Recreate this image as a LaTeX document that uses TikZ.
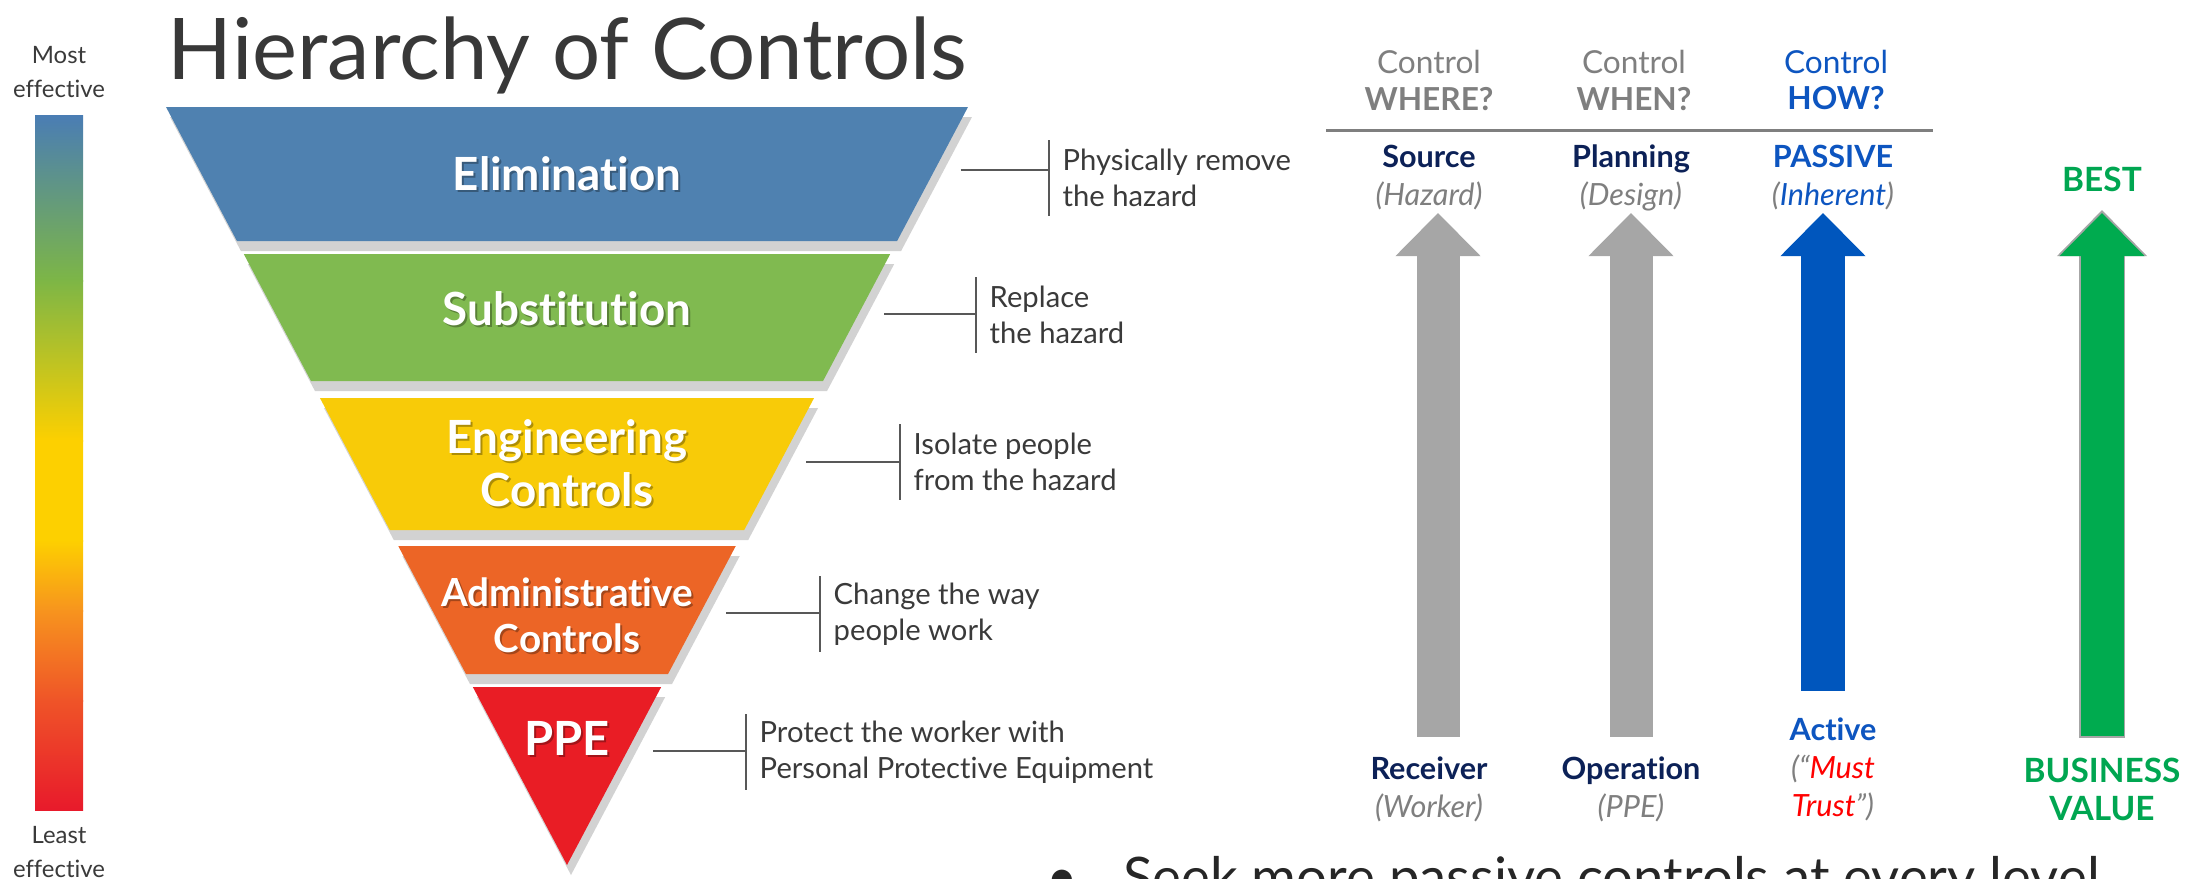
\documentclass[tikz,border=0pt]{standalone}
\usepackage{fontspec}
\setmainfont{Lato}[Ligatures=NoCommon]
\usetikzlibrary{arrows.meta,shadows}

\definecolor{barblue}{HTML}{4A7DB4}
\definecolor{bargreen}{HTML}{7DB646}
\definecolor{baryellow}{HTML}{FDD000}
\definecolor{barorange}{HTML}{F7941E}
\definecolor{barredor}{HTML}{EF5428}
\definecolor{barred}{HTML}{E81A2B}
\definecolor{elimblue}{HTML}{4F81B0}
\definecolor{subsgreen}{HTML}{80BA50}
\definecolor{engyellow}{HTML}{F8CB08}
\definecolor{adminorange}{HTML}{EC6526}
\definecolor{ppered}{HTML}{E91D25}
\definecolor{titlegray}{HTML}{383838}
\definecolor{descgray}{HTML}{3A3A3A}
\definecolor{ctrlgray}{HTML}{7F7F7F}
\definecolor{arrgray}{HTML}{A6A6A6}
\definecolor{hocnavy}{HTML}{0C2157}
\definecolor{pasblue}{HTML}{0D55C0}
\definecolor{arrblue}{HTML}{0056BD}
\definecolor{bestgreen}{HTML}{00A651}
\definecolor{arrgreen}{HTML}{00AB4F}
\definecolor{mustred}{HTML}{FF0000}

\tikzset{
  band/.style={fill=#1, drop shadow={shadow xshift=.04cm, shadow yshift=-.1cm, fill=black!35, opacity=.5}},
  lvl/.style={text=white, align=center, inner sep=0pt},
  heading/.style={anchor=base west, inner sep=0pt, text=titlegray, font=\fontsize{24.2}{28}\selectfont},
  eff/.style={align=center, text=descgray, inner sep=0pt, font=\fontsize{6.8}{9.4}\selectfont},
  desc/.style={anchor=west, align=left, text=descgray, font=\fontsize{8.3}{10.2}\selectfont,
    inner xsep=.13cm, inner ysep=0pt, minimum height=.74cm},
  callout/.style={draw=descgray!85, line width=.6pt},
  hd/.style={align=center, text=ctrlgray, inner sep=0pt, font=\fontsize{9}{10.5}\selectfont},
  lv/.style={align=center, text=ctrlgray, inner sep=0pt, font=\fontsize{8.7}{10.8}\selectfont},
  bigarrow/.style={line width=.43cm, -{Triangle[width=.85cm, length=.43cm, line width=0pt]}}
}

\begin{document}
\begin{tikzpicture}[x=0.01cm, y=-0.01cm]
  \clip (0,0) rectangle (2190,878);

  % effectiveness bar
  \foreach \ya/\yb/\ca/\cb in {115/280/barblue/bargreen, 280/440/bargreen/baryellow,
      440/540/baryellow/baryellow, 540/610/baryellow/barorange,
      610/700/barorange/barredor, 700/809/barredor/barred}
    \shade[top color=\ca, bottom color=\cb] (35,\ya) rectangle (83,{\yb+1});
  \node[eff] (most) at (59,72) {Most\\effective};
  \node[eff] (least) at (59,852) {Least\\effective};

  \node[heading] (title) at (167,79) {Hierarchy of Controls};

  % inverted pyramid
  \foreach \nm/\ya/\yb/\ly/\col/\fs/\ls/\txt in {
      elim/107/241/174/elimblue/13/15/Elimination,
      subs/254/381/309/subsgreen/13/15/Substitution,
      eng/398/530/463/engyellow/13/15/{Engineering\\Controls},
      admin/546/674/615/adminorange/11/13/{Administrative\\Controls},
      ppe/687/865/738/ppered/13.4/15/PPE}
  {
    \fill[band=\col] ({567-0.529*(865-\ya)},\ya) -- ({567+0.529*(865-\ya)},\ya)
      -- ({567+0.529*(865-\yb)},\yb) -- ({567-0.529*(865-\yb)},\yb) -- cycle;
    \node[lvl, text=black, opacity=.3, font=\bfseries\fontsize{\fs}{\ls}\selectfont] (\nm-sh) at (569,\ly+2) {\txt};
    \node[lvl, font=\bfseries\fontsize{\fs}{\ls}\selectfont] (\nm) at (567,\ly) {\txt};
  }

  % callouts
  \foreach \nm/\sy/\bx/\my/\txt in {
      elim/170/1049/178/{Physically remove\\the hazard},
      subs/314/976/315/{Replace\\the hazard},
      eng/462/900/462/{Isolate people\\from the hazard},
      admin/613/820/614/{Change the way\\people work},
      ppe/751/746/752/{Protect the worker with\\Personal Protective Equipment}}
  {
    \coordinate (\nm-r) at ({593+0.529*(865-\sy)},\sy);
    \node[desc] (\nm-d) at (\bx,\my) {\txt};
    \draw[callout] (\nm-d.north west) -- (\nm-d.south west);
    \draw[callout] (\nm-r) -- (\nm-d.west |- \nm-r);
  }

  % control questions
  \node[hd] (where) at (1429,80) {Control\\\textbf{WHERE?}};
  \node[hd] (when) at (1634,80) {Control\\\textbf{WHEN?}};
  \node[hd, text=pasblue] (how) at (1836,80) {Control\\\textbf{HOW?}};
  \draw[ctrlgray, line width=.85pt] (1326,130) -- (1933,130);

  \node[lv] (src) at (1429,178) {\textbf{\color{hocnavy}Source}\\\textit{(Hazard)}};
  \node[lv] (plan) at (1631,178) {\textbf{\color{hocnavy}Planning}\\\textit{(Design)}};
  \node[lv] (pas) at (1833,178) {\textbf{\color{pasblue}PASSIVE}\\\textit{(\textcolor{pasblue}{Inherent})}};
  \node[lv, text=bestgreen, font=\bfseries\fontsize{9.5}{11}\selectfont] (best) at (2102,179) {BEST};

  \node[lv] (recv) at (1429,789) {\textbf{\color{hocnavy}Receiver}\\\textit{(Worker)}};
  \node[lv] (oper) at (1631,789) {\textbf{\color{hocnavy}Operation}\\\textit{(PPE)}};
  \node[lv] (act) at (1833,769) {\textbf{\color{pasblue}Active}\\\textit{(“\textcolor{mustred}{Must}}\\\textit{\textcolor{mustred}{Trust}”)}};
  \node[lv, text=bestgreen, font=\bfseries\fontsize{9.5}{10.8}\selectfont] (busv) at (2102,789) {BUSINESS\\VALUE};

  \draw[bigarrow, arrgray, shorten <=.52cm, shorten >=.35cm] ([xshift=.09cm]recv.center) -- ([xshift=.09cm]src.center);
  \draw[bigarrow, arrgray, shorten <=.52cm, shorten >=.35cm] (oper.center) -- (plan.center);
  \draw[bigarrow, arrblue, shorten <=.78cm, shorten >=.35cm] ([xshift=-.1cm]act.center) -- ([xshift=-.1cm]pas.center);
  \draw[bigarrow, arrgray, line width=.46cm, -{Triangle[width=.9cm, length=.46cm, line width=0pt]},
    shorten <=.51cm, shorten >=.31cm] (busv.center) -- (best.center);
  \draw[bigarrow, arrgreen, shorten <=.53cm, shorten >=.34cm] (busv.center) -- (best.center);

  \node[anchor=base west, inner sep=0pt, text=black!85, font=\fontsize{15.5}{18}\selectfont] (seek)
    at (1046,896) {•\hspace{.45cm}Seek more passive controls at every level};
\end{tikzpicture}
\end{document}
